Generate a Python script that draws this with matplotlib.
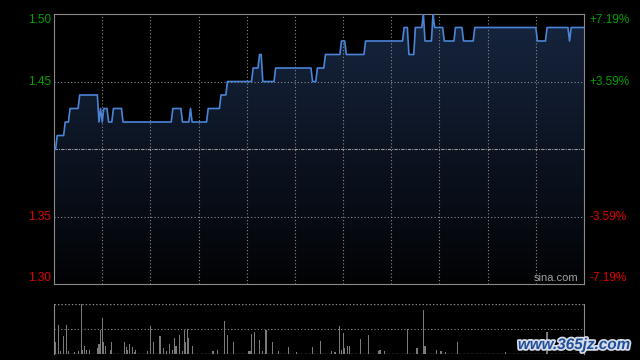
import matplotlib
matplotlib.use("Agg")
import matplotlib.pyplot as plt
import matplotlib.patheffects as pe
import numpy as np

plt.rcParams['font.family'] = ['Liberation Sans', 'DejaVu Sans']

###DATA: ------------------------------------------------------------------------------------------------------
prev_close = 1.40
# minute (0..330) at which the price moves to a new level, and that level
change_min = [0, 2, 7, 10, 16, 28, 29, 30, 31, 34, 37, 43, 74, 80, 85, 86, 96, 104, 108,
              124, 128, 130, 138, 161, 164, 169, 179, 182, 194, 218, 221, 225, 230, 231,
              236, 237, 243, 250, 255, 262, 301, 307, 321, 322]
change_price = [1.40, 1.41, 1.42, 1.43, 1.44, 1.42, 1.43, 1.42, 1.43, 1.42, 1.43, 1.42, 1.43, 1.42,
                1.43, 1.42, 1.43, 1.44, 1.45, 1.46, 1.47, 1.45, 1.46, 1.45, 1.46, 1.47, 1.48, 1.47,
                1.48, 1.49, 1.47, 1.49, 1.50, 1.48, 1.50, 1.49, 1.48, 1.49, 1.48, 1.49, 1.48, 1.49,
                1.48, 1.49]
# volume bars: minute and height (panel units 0..50)
vol_min = [1, 3, 4, 6, 8, 9, 13, 15, 17, 18, 19, 20, 22,
           27, 28, 29, 30, 31, 32, 35, 36,
           44, 45, 46, 47, 49, 50, 51, 58, 60, 62, 66, 68, 70,
           72, 74, 75, 76, 78, 80, 81, 82, 83, 84, 86,
           99, 102, 106, 108, 112, 121, 122, 123, 125, 128, 130, 132, 136, 140,
           146, 151, 161, 166, 173, 175, 178, 179, 180, 181, 183, 184,
           191, 196, 202, 203, 206, 220, 226, 230, 231, 238, 241, 244,
           251, 281, 307]
vol_height = [12, 29, 3, 18, 29, 3, 2, 3, 50, 4, 8, 4, 4,
              6, 10, 24, 36, 12, 8, 4, 12,
              12, 7, 4, 10, 7, 2, 4, 3, 28, 12, 18, 6, 3,
              10, 4, 16, 8, 19, 3, 24, 12, 25, 16, 8,
              3, 4, 33, 19, 12, 3, 3, 20, 22, 14, 3, 24, 12, 3,
              7, 2, 7, 13, 3, 2, 28, 4, 21, 6, 8, 8,
              15, 19, 3, 4, 3, 25, 6, 44, 8, 4, 3, 2,
              12, 2, 22]

price_ticks = [1.30, 1.35, 1.45, 1.50]
pct_labels = ["-7.19%", "-3.59%", "+3.59%", "+7.19%"]

###PLOT: ------------------------------------------------------------------------------------------------------
minutes = np.arange(0, 331)
idx = np.searchsorted(change_min, minutes, side="right") - 1
prices = np.array(change_price)[idx]

fig = plt.figure(figsize=(6.4, 3.6), dpi=100, facecolor="black")
ax = fig.add_axes([54/640, 1-284/360, 530/640, 270/360], facecolor="black")
ax.set_xlim(0, 330)
ax.set_ylim(1.30, 1.50)

#gradient under the line
grad = np.linspace(0, 1, 256).reshape(-1, 1)
cmap = matplotlib.colors.LinearSegmentedColormap.from_list("g", ["#020305", "#16253f"])
im = ax.imshow(grad, extent=[0, 330, 1.30, 1.50], origin="lower", aspect="auto", cmap=cmap, zorder=1)
poly = ax.fill_between(minutes, 1.30, prices, color="none", lw=0)
im.set_clip_path(poly.get_paths()[0], transform=ax.transData)
ax.plot(minutes, prices, color="#4a84d6", lw=1.2, zorder=4)

#grid
for k in range(1, 11):
    ax.axvline(k*30, color="#8a8a8a", lw=0.8, ls=(0, (1, 2)), zorder=2)
for p in [1.35, 1.45]:
    ax.axhline(p, color="#8a8a8a", lw=0.8, ls=(0, (1, 2)), zorder=2)
ax.axhline(prev_close, color="#9a9a9a", lw=0.8, ls=(0, (3, 1, 1, 1)), zorder=2)

for s in ax.spines.values():
    s.set_color("#8a8a8a")
ax.set_xticks([])
ax.set_yticks([])

tr = ax.get_yaxis_transform()
for p, lab in zip(price_ticks, pct_labels):
    col = "#00a000" if p > prev_close else "#e00000"
    off = 0
    if p == 1.50:
        off = -0.0045
    if p == 1.30:
        off = 0.0045
    ax.text(-0.006, p + off, "%.2f" % p, color=col, fontsize=8.5, ha="right", va="center", transform=tr)
    ax.text(1.01, p + off, lab, color=col, fontsize=8.5, ha="left", va="center", transform=tr)
ax.text(0.99, 1.301, "sina.com", color="#a0a0a0", fontsize=8, ha="right", va="bottom",
        transform=tr)

#volume panel
vax = fig.add_axes([54/640, 1-354/360, 530/640, 50/360], facecolor="black")
vax.set_xlim(0, 330)
vax.set_ylim(0, 50)
vax.bar(vol_min, vol_height, width=0.7, color="#7a7a7a", zorder=3)
vax.axhline(25, color="#8a8a8a", lw=0.8, ls=(0, (1, 2)))
vax.axhline(50, color="#8a8a8a", lw=1.0, ls=(0, (1, 1.5)))
vax.axhline(0.3, color="#6a6a6a", lw=1.0, ls=(0, (2, 1)))
for k in ["top", "bottom"]:
    vax.spines[k].set_visible(False)
for k in ["left", "right"]:
    vax.spines[k].set_color("#8a8a8a")
vax.set_xticks([])
vax.set_yticks([])

fig.text(574/640, 1-345/360, "www.365jz.com", color="#1f4f9a", fontsize=11, fontweight="bold",
         ha="center", va="center", style="italic",
         path_effects=[pe.withStroke(linewidth=2.5, foreground="#d8dce8")])

fig.savefig("out.png", dpi=100, facecolor="black")
